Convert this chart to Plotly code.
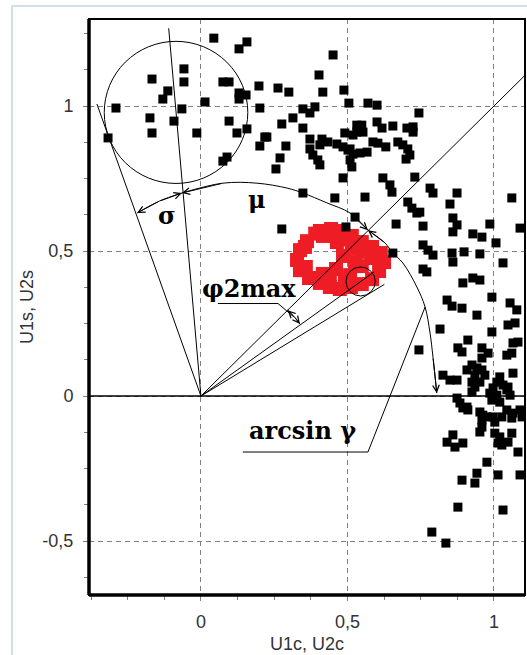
import plotly.graph_objects as go

# ---------------- data ----------------
black_x = [0.044, 0.157, 0.130, -0.058, -0.167, -0.058, 0.075, 0.096, 0.198, -0.113,
           -0.130, 0.130, 0.154, 0.130, 0.014, -0.290, -0.065, 0.201, -0.174, -0.092,
           0.096, -0.167, -0.014, 0.123, 0.157, 0.218, 0.201, -0.317, 0.089, 0.075,
           0.451, 0.403, 0.263, 0.300, 0.416, 0.488, 0.505, 0.570, 0.601, 0.744,
           0.348, 0.389, 0.372, 0.314, 0.276, 0.348, 0.532, 0.549, 0.532, 0.553,
           0.519, 0.491, 0.601, 0.618, 0.655, 0.703, 0.724, 0.724, 0.225, 0.372,
           0.413, 0.406, 0.290, 0.433, 0.464, 0.485, 0.502, 0.587, 0.604, 0.631,
           0.672, 0.689, 0.706, 0.713, 0.700, 0.372, 0.382, 0.399, 0.406, 0.509,
           0.519, 0.543, 0.567, 0.509, 0.515, 0.270, 0.256, 0.485, 0.621, 0.645,
           0.652, 0.730, 0.782, 0.792, 0.874, 0.348, 0.457, 0.560, 1.061, 0.706,
           0.720, 0.737, 0.747, 0.850, 0.526, 0.276, 0.495, 0.666, 0.758, 0.860,
           0.874, 0.860, 0.986, 0.928, 0.959, 1.007, 1.089, 0.758, 0.775, 0.792,
           0.857, 0.860, 0.898, 0.952, 0.655, 1.031, 0.758, 0.771, 0.928, 0.952,
           0.894, 0.840, 0.857, 0.891, 0.993, 0.942, 1.055, 1.078, 0.816, 0.993,
           1.048, 1.072, 0.744, 0.911, 0.877, 0.891, 0.959, 0.980, 0.959, 1.065,
           1.082, 1.044, 1.061, 0.925, 0.942, 0.908, 0.935, 0.925, 0.935, 0.925,
           0.959, 0.969, 0.952, 0.826, 0.850, 0.874, 1.020, 1.010, 1.031, 1.048,
           1.065, 0.997, 0.986, 1.010, 0.993, 1.020, 1.044, 1.055, 0.874, 0.884,
           0.908, 0.894, 0.911, 0.952, 0.962, 0.976, 0.959, 0.997, 1.003, 1.044,
           1.065, 1.089, 1.027, 1.061, 1.096, 0.959, 0.952, 1.003, 1.020, 1.014,
           1.027, 1.048, 1.061, 1.082, 0.860, 0.840, 0.867, 0.894, 0.976, 0.942,
           0.935, 0.891, 1.014, 1.089, 0.877, 1.031, 0.788, 0.836]
black_y = [1.234, 1.221, 1.197, 1.128, 1.093, 1.083, 1.083, 1.083, 1.069, 1.052,
           1.024, 1.045, 1.038, 1.024, 1.014, 0.993, 0.990, 0.993, 0.959, 0.948,
           0.948, 0.907, 0.907, 0.907, 0.921, 0.893, 0.862, 0.890, 0.824, 0.810,
           1.176, 1.107, 1.062, 1.048, 1.048, 1.055, 1.010, 1.010, 1.003, 0.976,
           0.990, 0.997, 0.976, 0.959, 0.938, 0.924, 0.934, 0.934, 0.910, 0.910,
           0.900, 0.907, 0.945, 0.924, 0.931, 0.924, 0.928, 0.910, 0.893, 0.886,
           0.886, 0.866, 0.862, 0.876, 0.869, 0.859, 0.848, 0.876, 0.872, 0.859,
           0.876, 0.866, 0.852, 0.831, 0.817, 0.852, 0.831, 0.814, 0.797, 0.852,
           0.834, 0.838, 0.841, 0.814, 0.790, 0.821, 0.783, 0.752, 0.752, 0.728,
           0.703, 0.755, 0.717, 0.700, 0.700, 0.700, 0.683, 0.686, 0.683, 0.669,
           0.648, 0.631, 0.634, 0.662, 0.617, 0.576, 0.583, 0.593, 0.586, 0.614,
           0.590, 0.566, 0.593, 0.559, 0.548, 0.528, 0.579, 0.521, 0.503, 0.486,
           0.493, 0.462, 0.497, 0.490, 0.493, 0.459, 0.438, 0.428, 0.407, 0.400,
           0.390, 0.331, 0.310, 0.303, 0.341, 0.279, 0.321, 0.297, 0.231, 0.221,
           0.245, 0.252, 0.159, 0.193, 0.166, 0.152, 0.166, 0.148, 0.131, 0.183,
           0.186, 0.141, 0.148, 0.107, 0.097, 0.090, 0.072, 0.048, 0.031, 0.014,
           0.090, 0.072, 0.048, 0.072, 0.055, 0.055, 0.066, 0.048, 0.038, 0.031,
           0.079, 0.028, 0.010, 0.003, -0.014, -0.021, 0.021, 0.003, -0.007, -0.024,
           -0.038, -0.041, -0.048, -0.055, -0.066, -0.072, -0.083, -0.072, -0.090, -0.048,
           -0.059, -0.048, -0.072, -0.076, -0.072, -0.107, -0.124, -0.128, -0.141, -0.162,
           -0.169, -0.159, -0.128, -0.193, -0.134, -0.159, -0.176, -0.162, -0.228, -0.266,
           -0.300, -0.290, -0.272, -0.272, -0.383, -0.393, -0.469, -0.507]

red_x = [0.406, 0.444, 0.481, 0.515, 0.549, 0.584, 0.614, 0.625, 0.608, 0.584,
         0.549, 0.512, 0.474, 0.440, 0.406, 0.369, 0.338, 0.328, 0.338, 0.362,
         0.416, 0.464, 0.485, 0.461, 0.416, 0.358, 0.355, 0.515, 0.549, 0.584,
         0.526, 0.509, 0.549, 0.440, 0.491, 0.461, 0.594, 0.390, 0.500]
red_y = [0.569, 0.576, 0.569, 0.552, 0.531, 0.514, 0.493, 0.462, 0.431, 0.403,
         0.386, 0.376, 0.369, 0.376, 0.390, 0.407, 0.434, 0.469, 0.503, 0.534,
         0.552, 0.531, 0.483, 0.438, 0.421, 0.445, 0.514, 0.510, 0.497, 0.476,
         0.462, 0.417, 0.448, 0.400, 0.400, 0.552, 0.486, 0.560, 0.540]

# ---------------- construction geometry (data units) ----------------
big_circle_center = (-0.085, 0.978)
big_circle_radius = 0.245
small_circle_center = (0.545, 0.395)
small_circle_radius = 0.05

ray_ends = {                       # rays drawn from the origin
    "centre": (-0.110, 1.268),
    "tangent": (-0.355, 1.007),
    "mean": (1.106, 1.106),
    "phi_centre": (0.591, 0.428),
    "phi_tangent": (0.626, 0.385),
}
sigma_arc_x = [-0.065, -0.142, -0.218]
sigma_arc_y = [0.700, 0.672, 0.631]
mu_arc_x = [-0.065, 0.075, 0.191, 0.294, 0.348, 0.430, 0.509, 0.570]
mu_arc_y = [0.700, 0.734, 0.734, 0.717, 0.700, 0.666, 0.631, 0.572]
gamma_arc_x = [0.570, 0.628, 0.655, 0.689, 0.737, 0.765, 0.782, 0.792, 0.805]
gamma_arc_y = [0.572, 0.528, 0.493, 0.459, 0.376, 0.307, 0.217, 0.134, 0.010]
phi_arrow_x = [0.296, 0.318, 0.338]
phi_arrow_y = [0.296, 0.274, 0.248]
phi_leader_x = [0.058, 0.263, 0.318]
phi_leader_y = [0.319, 0.319, 0.272]
gamma_leader_x = [0.143, 0.570, 0.765]
gamma_leader_y = [-0.193, -0.193, 0.307]

labels = [  # text, x, y
    ("σ", -0.116, 0.624),
    ("μ", 0.191, 0.679),
    ("φ2max", 0.164, 0.372),
    ("arcsin γ", 0.348, -0.120),
]

x_tickvals = [0, 0.5, 1]
x_ticktext = ["0", "0,5", "1"]
y_tickvals = [-0.5, 0, 0.5, 1]
y_ticktext = ["-0,5", "0", "0,5", "1"]

x_range = [-0.382, 1.106]
y_range = [-0.686, 1.300]

# ---------------- figure ----------------
W, H = 527, 655
ML, MR, MT, MB = 89, 2, 19, 60
pw, ph = W - ML - MR, H - MT - MB


def paper(px, py):
    return (px - ML) / pw, (H - MB - py) / ph


fig = go.Figure()

fig.add_trace(go.Scatter(x=red_x, y=red_y, mode="markers",
                         marker=dict(symbol="square", size=14, color="#ee1c25"),
                         hoverinfo="skip", showlegend=False))
fig.add_trace(go.Scatter(x=black_x, y=black_y, mode="markers",
                         marker=dict(symbol="square", size=9, color="black"),
                         showlegend=False))

line_style = dict(color="black", width=1)
for name, (ex, ey) in ray_ends.items():
    fig.add_trace(go.Scatter(x=[0, ex], y=[0, ey], mode="lines", line=line_style,
                             hoverinfo="skip", showlegend=False))
for xs, ys in [(sigma_arc_x, sigma_arc_y), (mu_arc_x, mu_arc_y),
               (gamma_arc_x, gamma_arc_y), (phi_arrow_x, phi_arrow_y)]:
    fig.add_trace(go.Scatter(x=xs, y=ys, mode="lines",
                             line=dict(color="black", width=1, shape="spline"),
                             hoverinfo="skip", showlegend=False))
for xs, ys in [(phi_leader_x, phi_leader_y), (gamma_leader_x, gamma_leader_y)]:
    fig.add_trace(go.Scatter(x=xs, y=ys, mode="lines", line=line_style,
                             hoverinfo="skip", showlegend=False))

shapes = []
cx, cy = big_circle_center
shapes.append(dict(type="circle", xref="x", yref="y",
                   x0=cx - big_circle_radius, x1=cx + big_circle_radius,
                   y0=cy - big_circle_radius, y1=cy + big_circle_radius,
                   line=dict(color="black", width=1)))
cx, cy = small_circle_center
shapes.append(dict(type="circle", xref="x", yref="y",
                   x0=cx - small_circle_radius, x1=cx + small_circle_radius,
                   y0=cy - small_circle_radius, y1=cy + small_circle_radius,
                   line=dict(color="black", width=1)))
# y = 0 solid line
shapes.append(dict(type="line", xref="paper", yref="y", x0=0, x1=1, y0=0, y1=0,
                   line=dict(color="black", width=1.5)))
# frame
shapes.append(dict(type="rect", xref="paper", yref="paper", x0=0, x1=1, y0=0, y1=1,
                   line=dict(color="black", width=2)))
shapes.append(dict(type="line", xref="paper", yref="paper", x0=0, x1=0, y0=0, y1=1,
                   line=dict(color="black", width=3.5)))
shapes.append(dict(type="line", xref="paper", yref="paper", x0=0, x1=1, y0=0, y1=0,
                   line=dict(color="black", width=3.5)))
# light panel border (left + top)
bx0, by0 = paper(12, H + 2)
bx1, by1 = paper(12, 6)
bx2, _ = paper(W + 2, 6)
shapes.append(dict(type="path", xref="paper", yref="paper",
                   path=f"M {bx0},{by0} L {bx1},{by1} L {bx2},{by1}",
                   line=dict(color="#cfe0ea", width=2)))

annotations = []
serif = dict(family="DejaVu Serif", size=24, color="black", weight="bold")
for text, tx, ty in labels:
    annotations.append(dict(x=tx, y=ty, xref="x", yref="y", text=text,
                            showarrow=False, font=serif,
                            xanchor="center", yanchor="middle"))

# arrow heads (tip, tail)
heads = [
    ((sigma_arc_x[-1], sigma_arc_y[-1]), (sigma_arc_x[-2], sigma_arc_y[-2])),
    ((sigma_arc_x[0], sigma_arc_y[0]), (sigma_arc_x[1], sigma_arc_y[1])),
    ((mu_arc_x[0], mu_arc_y[0]), (mu_arc_x[1], mu_arc_y[1])),
    ((mu_arc_x[-1], mu_arc_y[-1]), (mu_arc_x[-2], mu_arc_y[-2])),
    ((gamma_arc_x[-1], gamma_arc_y[-1]), (gamma_arc_x[-2], gamma_arc_y[-2])),
    ((gamma_arc_x[0], gamma_arc_y[0]), (gamma_arc_x[1], gamma_arc_y[1])),
    ((phi_arrow_x[0], phi_arrow_y[0]), (phi_arrow_x[1], phi_arrow_y[1])),
    ((phi_arrow_x[-1], phi_arrow_y[-1]), (phi_arrow_x[1], phi_arrow_y[1])),
]
for (hx, hy), (tx, ty) in heads:
    annotations.append(dict(x=hx, y=hy, ax=tx, ay=ty, xref="x", yref="y",
                            axref="x", ayref="y", text="", showarrow=True,
                            arrowhead=5, arrowsize=1.3, arrowwidth=1,
                            arrowcolor="black", standoff=0, startstandoff=0))

axis_font = dict(family="Liberation Sans, Arial", size=18, color="#333333")
common_axis = dict(showgrid=True, gridcolor="#808080", gridwidth=1,
                   griddash="5px,4px", zeroline=False, showline=False,
                   ticks="outside", ticklen=5, tickcolor="#808080", tickwidth=1,
                   tickmode="array", tickfont=axis_font,
                   minor=dict(tickmode="linear", dtick=0.125, tick0=0,
                              ticks="outside", ticklen=4,
                              tickcolor="#808080", showgrid=False))

fig.update_layout(
    width=W, height=H, autosize=False,
    margin=dict(l=ML, r=MR, t=MT, b=MB),
    paper_bgcolor="white", plot_bgcolor="white",
    showlegend=False,
    xaxis=dict(range=x_range, tickvals=x_tickvals, ticktext=x_ticktext,
               title=dict(text="U1c, U2c", font=axis_font, standoff=6),
               ticklabelstandoff=5, **common_axis),
    yaxis=dict(range=y_range, tickvals=y_tickvals, ticktext=y_ticktext,
               title=dict(text="U1s, U2s", font=axis_font, standoff=4),
               ticklabelstandoff=6, **common_axis),
    shapes=shapes,
    annotations=annotations,
)

fig.write_html("out.html", config={"displayModeBar": False},
               post_script="document.body.style.margin='0px';"
                           "document.body.style.overflow='hidden';")
